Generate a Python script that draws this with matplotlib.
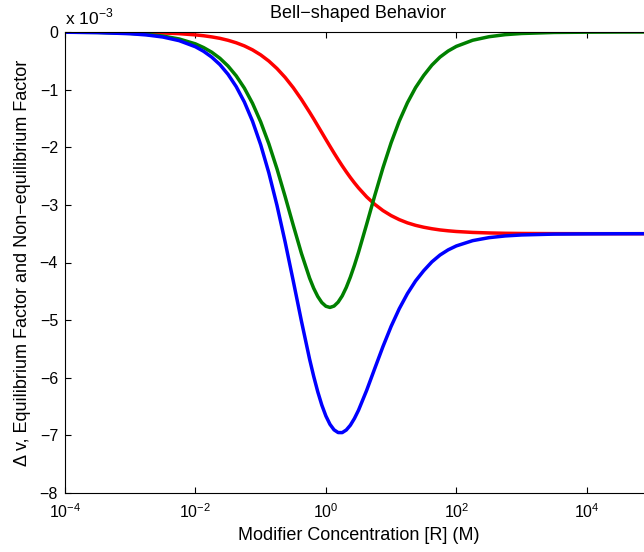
import matplotlib
matplotlib.use('Agg')
import matplotlib.pyplot as plt
import numpy as np

# log10 of modifier concentration [R] (M)
log_conc = [-4, -3.5, -3, -2.75, -2.5, -2.25, -2, -1.875, -1.75, -1.625,
            -1.5, -1.375, -1.25, -1.125, -1, -0.875, -0.75, -0.625, -0.5,
            -0.375, -0.25, -0.1875, -0.125, -0.0625, 0, 0.0625, 0.125, 0.1875,
            0.25, 0.3125, 0.375, 0.4375, 0.5, 0.625, 0.75, 0.875, 1, 1.125,
            1.25, 1.375, 1.5, 1.625, 1.75, 1.875, 2, 2.25, 2.5, 2.75, 3, 3.5,
            4, 4.5, 5]

# values in units of 1e-3
equilibrium = [-0.001, -0.002, -0.006, -0.010, -0.017, -0.029, -0.050, -0.065,
               -0.085, -0.110, -0.144, -0.187, -0.241, -0.310, -0.397, -0.504,
               -0.634, -0.788, -0.967, -1.170, -1.392, -1.507, -1.626, -1.745,
               -1.865, -1.983, -2.100, -2.213, -2.322, -2.426, -2.525, -2.618,
               -2.705, -2.861, -2.991, -3.099, -3.186, -3.256, -3.312, -3.355,
               -3.388, -3.414, -3.435, -3.450, -3.462, -3.478, -3.487, -3.493,
               -3.496, -3.499, -3.500, -3.500, -3.500]
non_equilibrium = [-0.003, -0.008, -0.024, -0.041, -0.070, -0.121, -0.206, -0.270,
                   -0.351, -0.456, -0.591, -0.761, -0.974, -1.238, -1.559, -1.939,
                   -2.374, -2.855, -3.355, -3.842, -4.270, -4.446, -4.589, -4.695,
                   -4.759, -4.780, -4.756, -4.688, -4.580, -4.433, -4.254, -4.049,
                   -3.824, -3.336, -2.836, -2.357, -1.923, -1.546, -1.228, -0.965,
                   -0.754, -0.575, -0.435, -0.330, -0.250, -0.143, -0.082, -0.046,
                   -0.026, -0.008, -0.003, -0.001, 0.000]
delta_v = [-0.004, -0.010, -0.030, -0.051, -0.087, -0.150, -0.256, -0.335,
           -0.436, -0.566, -0.735, -0.948, -1.215, -1.548, -1.956, -2.443,
           -3.008, -3.643, -4.322, -5.017, -5.677, -5.973, -6.242, -6.474,
           -6.664, -6.808, -6.904, -6.951, -6.952, -6.907, -6.824, -6.707,
           -6.564, -6.219, -5.837, -5.459, -5.109, -4.802, -4.540, -4.320,
           -4.142, -3.989, -3.870, -3.780, -3.712, -3.621, -3.569, -3.539,
           -3.522, -3.507, -3.503, -3.501, -3.500]

plt.rcParams['font.family'] = ['Liberation Sans', 'DejaVu Sans']
plt.rcParams['axes.unicode_minus'] = True

fig = plt.figure(figsize=(6.44, 5.52), dpi=100)
ax = fig.add_axes([65 / 644, 59 / 552, 587 / 644, 461 / 552])

x = 10.0 ** np.array(log_conc)
ax.plot(x, np.array(equilibrium) * 1e-3, color=(1, 0, 0), lw=2.5)
ax.plot(x, np.array(non_equilibrium) * 1e-3, color=(0, 0.5, 0), lw=2.5)
ax.plot(x, np.array(delta_v) * 1e-3, color=(0, 0, 1), lw=2.5)

ax.set_xscale('log')
ax.set_xlim(1e-4, 1e5)
ax.set_ylim(-8e-3, 0)
ax.set_xticks([1e-4, 1e-2, 1e0, 1e2, 1e4])
ax.xaxis.set_minor_locator(matplotlib.ticker.NullLocator())
ax.set_yticks(np.arange(-8, 1) * 1e-3)
ax.set_yticklabels(['\u22128', '\u22127', '\u22126', '\u22125', '\u22124',
                    '\u22123', '\u22122', '\u22121', '0'])
ax.tick_params(direction='in', length=4, width=0.8, top=True, right=True,
               labelsize=11.5, pad=5)
ax.tick_params(axis='x', pad=7)
for sp in ax.spines.values():
    sp.set_linewidth(0.8)

ax.set_title('Bell\u2212shaped Behavior', fontsize=13, pad=10)
ax.set_xlabel('Modifier Concentration [R] (M)', fontsize=13, labelpad=4)
ax.set_ylabel('\u0394 v, Equilibrium Factor and Non\u2212equilibrium Factor',
              fontsize=13, labelpad=6)
fig.text(65 / 644, 1 - 17 / 552, 'x 10$^{\\mathdefault{-3}}$', fontsize=12.5,
         ha='left', va='center')

fig.savefig('out.png', dpi=100)
